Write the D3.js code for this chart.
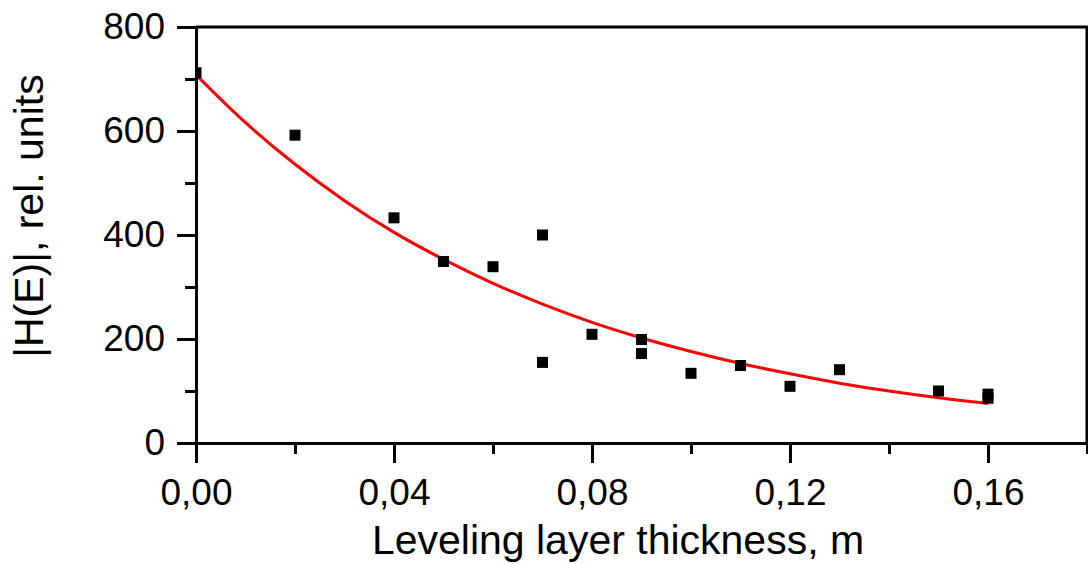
<!DOCTYPE html>
<html>
<head>
<meta charset="utf-8">
<script src="https://cdnjs.cloudflare.com/ajax/libs/d3/7.8.5/d3.min.js"></script>
<style>
  body { margin: 0; background: #fff; }
  svg { display: block; }
</style>
</head>
<body>
<script>
// measured points (thickness in m, |H(E)| in rel. units)
var thickness = [0.00, 0.02, 0.04, 0.05, 0.06, 0.07, 0.07, 0.08, 0.09, 0.09, 0.10, 0.11, 0.12, 0.13, 0.15, 0.16, 0.16];
var hValues   = [712, 592, 433, 349, 339, 400, 155, 209, 199, 172, 134, 149, 109, 141, 100, 94, 86];

// red fitted curve
var fitX = [0.00, 0.01, 0.02, 0.03, 0.04, 0.05, 0.06, 0.07, 0.08, 0.09, 0.10, 0.11, 0.12, 0.13, 0.14, 0.15, 0.16];
var fitY = [708, 616, 536, 466, 405, 353, 307, 267, 232, 202, 176, 153, 133, 115, 100, 87, 76];

var xMajor = [0, 0.04, 0.08, 0.12, 0.16];
var xMinor = [0.02, 0.06, 0.10, 0.14, 0.18];
var yMajor = [0, 200, 400, 600, 800];
var yMinor = [100, 300, 500, 700];

var width = 1088, height = 564;
var margin = { left: 196, right: 1087, top: 27, bottom: 443 };
var font = "'Liberation Sans', Arial, sans-serif";

var svg = d3.select("body").append("svg")
  .attr("width", width)
  .attr("height", height);

var x = d3.scaleLinear().domain([0, 0.18]).range([margin.left, margin.right]);
var y = d3.scaleLinear().domain([0, 800]).range([margin.bottom, margin.top]);

svg.append("clipPath").attr("id", "plot")
  .append("rect")
  .attr("x", margin.left).attr("y", margin.top)
  .attr("width", margin.right - margin.left).attr("height", margin.bottom - margin.top);

var plot = svg.append("g").attr("clip-path", "url(#plot)");

//the fit line
var fitData = fitX.map(function(d, i) { return { x: d, y: fitY[i] }; });
var line = d3.line()
  .x(function(d) { return x(d.x); })
  .y(function(d) { return y(d.y); })
  .curve(d3.curveMonotoneX);

plot.append("path")
  .datum(fitData)
  .attr("fill", "none")
  .attr("stroke", "#f00")
  .attr("stroke-width", 3)
  .attr("d", line);

//square markers
var s = 11;
plot.selectAll("rect.pt")
  .data(thickness)
  .enter().append("rect")
  .attr("class", "pt")
  .attr("x", function(d) { return x(d) - s / 2; })
  .attr("y", function(d, i) { return y(hValues[i]) - s / 2; })
  .attr("width", s)
  .attr("height", s)
  .attr("fill", "#000");

//frame top + right
svg.append("path")
  .attr("d", "M" + margin.left + "," + margin.top + "H" + margin.right + "V" + margin.bottom)
  .attr("fill", "none")
  .attr("stroke", "#000")
  .attr("stroke-width", 3);

function styleAxis(g) {
  g.selectAll("path, line").attr("stroke", "#000").attr("stroke-width", 3);
  g.selectAll("text").attr("fill", "#000").style("font-family", font).style("font-size", "37px");
}

//x axis: minor then major
svg.append("g")
  .attr("transform", "translate(0," + margin.bottom + ")")
  .call(d3.axisBottom(x).tickValues(xMinor).tickSize(11).tickFormat(""))
  .call(styleAxis)
  .select(".domain").remove();

svg.append("g")
  .attr("transform", "translate(0," + margin.bottom + ")")
  .call(d3.axisBottom(x).tickValues(xMajor).tickSize(20).tickSizeOuter(0).tickPadding(16)
    .tickFormat(function(d) { return d3.format(".2f")(d).replace(".", ","); }))
  .call(styleAxis);

//y axis
svg.append("g")
  .attr("transform", "translate(" + margin.left + ",0)")
  .call(d3.axisLeft(y).tickValues(yMinor).tickSize(11).tickFormat(""))
  .call(styleAxis)
  .select(".domain").remove();

svg.append("g")
  .attr("transform", "translate(" + margin.left + ",0)")
  .call(d3.axisLeft(y).tickValues(yMajor).tickSize(19).tickSizeOuter(0).tickPadding(12))
  .call(styleAxis);

//titles
svg.append("text")
  .attr("x", 618)
  .attr("y", 554)
  .attr("text-anchor", "middle")
  .style("font-family", font)
  .style("font-size", "41px")
  .text("Leveling layer thickness, m");

svg.append("text")
  .attr("transform", "translate(43,216) rotate(-90)")
  .attr("text-anchor", "middle")
  .style("font-family", font)
  .style("font-size", "41px")
  .text("|H(E)|, rel. units");
</script>
</body>
</html>
